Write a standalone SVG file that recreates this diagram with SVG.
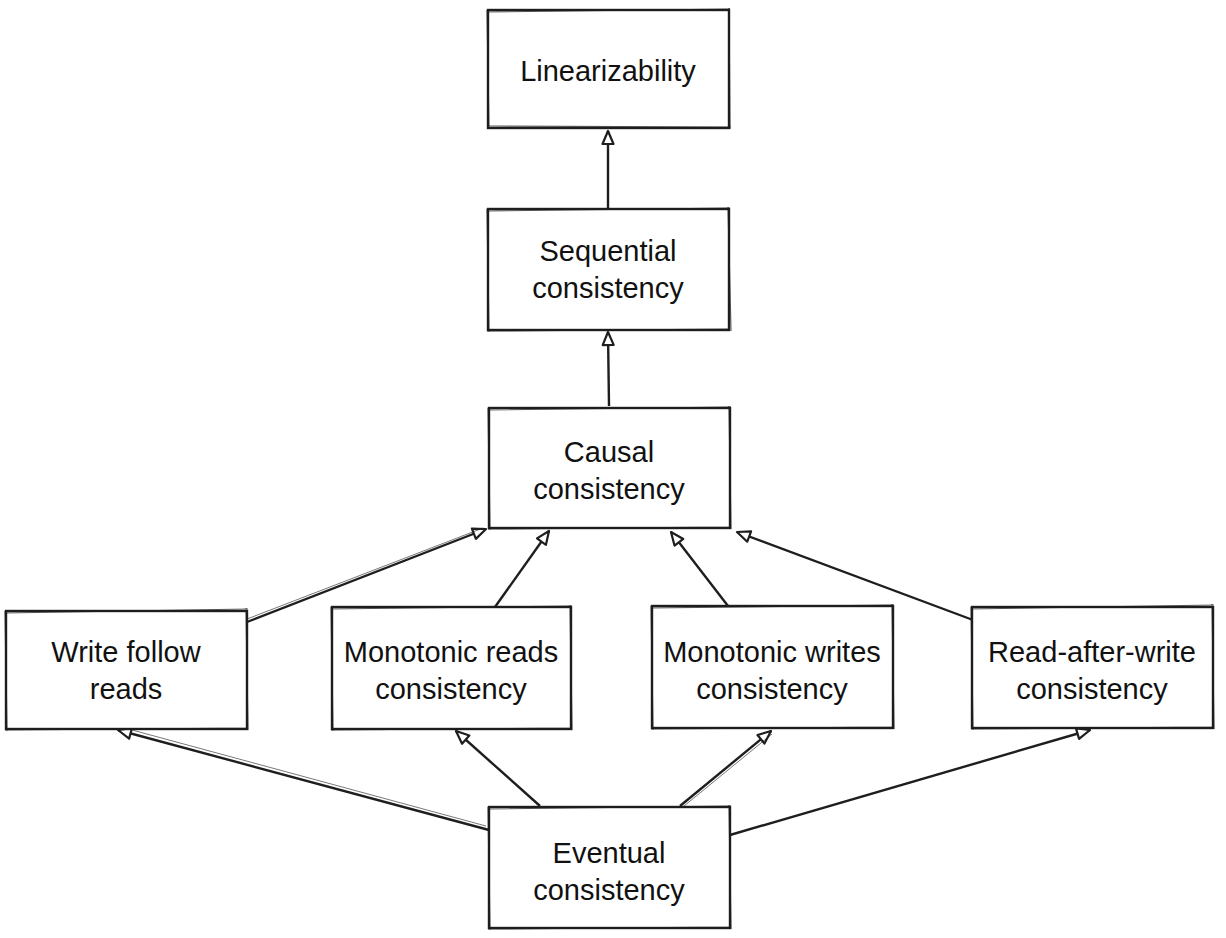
<svg xmlns="http://www.w3.org/2000/svg" width="1226" height="938" viewBox="0 0 1226 938">
<defs>
<style>
.box{fill:#ffffff;stroke:#1e1e1e;stroke-width:2.4}
.rough{fill:none;stroke:#1e1e1e;stroke-width:1.2;opacity:0.7}
.lbl{font-family:"Liberation Sans",Arial,Helvetica,sans-serif;font-size:29px;fill:#111111;text-anchor:middle}
.edge{fill:none;stroke:#1e1e1e;stroke-width:2.4;marker-end:url(#arr)}
.edge2{fill:none;stroke:#1e1e1e;stroke-width:1;opacity:0.6}
</style>
<marker id="arr" markerUnits="userSpaceOnUse" markerWidth="18" markerHeight="16" refX="15" refY="8" orient="auto">
<path d="M2,2.5 L15,8 L2,13.5 Z" fill="#ffffff" stroke="#1e1e1e" stroke-width="2.2" stroke-linejoin="round"/>
</marker>
</defs>
<rect width="1226" height="938" fill="#ffffff"/>
<g id="connectors">
<path class="edge" d="M608,208 L608,131"/>
<path class="edge" d="M609,406 L608,332"/>
<path class="edge" d="M247,622 L486,529"/>
<path class="edge2" d="M247,619 L483,528"/>
<path class="edge" d="M495,607 L549,531"/>
<path class="edge" d="M728,606 L671,532"/>
<path class="edge" d="M973,620 L737,532"/>
<path class="edge" d="M489,830 L118,730"/>
<path class="edge2" d="M486,826 L121,727"/>
<path class="edge" d="M540,806 L456,731"/>
<path class="edge" d="M680,806 L771,731"/>
<path class="edge2" d="M684,806 L772,734"/>
<path class="edge" d="M730,835 L1090,730"/>
</g>
<g id="linearizability">
<rect class="box" x="488" y="10" width="241" height="118"/>
<path class="rough" d="M487,12 L730,9 M729,8 L730,129 M731,127 L487,126 M489,129 L487,10"/>
<text class="lbl" x="608" y="81">Linearizability</text>
</g>
<g id="sequential">
<rect class="box" x="488" y="209" width="241" height="121"/>
<path class="rough" d="M487,211 L730,208 M728,207 L731,331 M730,329 L487,331 M489,332 L487,209"/>
<text class="lbl" x="608" y="261">Sequential</text>
<text class="lbl" x="608" y="298">consistency</text>
</g>
<g id="causal">
<rect class="box" x="489" y="408" width="241" height="120"/>
<path class="rough" d="M488,410 L731,407 M729,406 L731,529 M731,527 L488,529 M490,530 L488,408"/>
<text class="lbl" x="609" y="462">Causal</text>
<text class="lbl" x="609" y="499">consistency</text>
</g>
<g id="write-follow-reads">
<rect class="box" x="6" y="611" width="241" height="118"/>
<path class="rough" d="M5,613 L248,609 M246,608 L248,730 M248,728 L5,730 M7,731 L5,611"/>
<text class="lbl" x="126" y="662">Write follow</text>
<text class="lbl" x="126" y="699">reads</text>
</g>
<g id="monotonic-reads">
<rect class="box" x="332" y="607" width="239" height="122"/>
<path class="rough" d="M331,609 L572,606 M570,605 L572,730 M572,728 L331,730 M333,731 L331,607"/>
<text class="lbl" x="451" y="662">Monotonic reads</text>
<text class="lbl" x="451" y="699">consistency</text>
</g>
<g id="monotonic-writes">
<rect class="box" x="652" y="606" width="241" height="122"/>
<path class="rough" d="M651,608 L894,605 M892,604 L894,729 M894,727 L651,729 M653,730 L651,606"/>
<text class="lbl" x="772" y="662">Monotonic writes</text>
<text class="lbl" x="772" y="699">consistency</text>
</g>
<g id="read-after-write">
<rect class="box" x="972" y="607" width="241" height="121"/>
<path class="rough" d="M971,609 L1214,605 M1212,604 L1214,729 M1214,727 L971,729 M973,730 L971,607"/>
<text class="lbl" x="1092" y="662">Read-after-write</text>
<text class="lbl" x="1092" y="699">consistency</text>
</g>
<g id="eventual">
<rect class="box" x="489" y="807" width="241" height="121"/>
<path class="rough" d="M488,809 L731,806 M729,805 L731,929 M731,927 L488,929 M490,930 L488,807"/>
<text class="lbl" x="609" y="863">Eventual</text>
<text class="lbl" x="609" y="900">consistency</text>
</g>
</svg>
